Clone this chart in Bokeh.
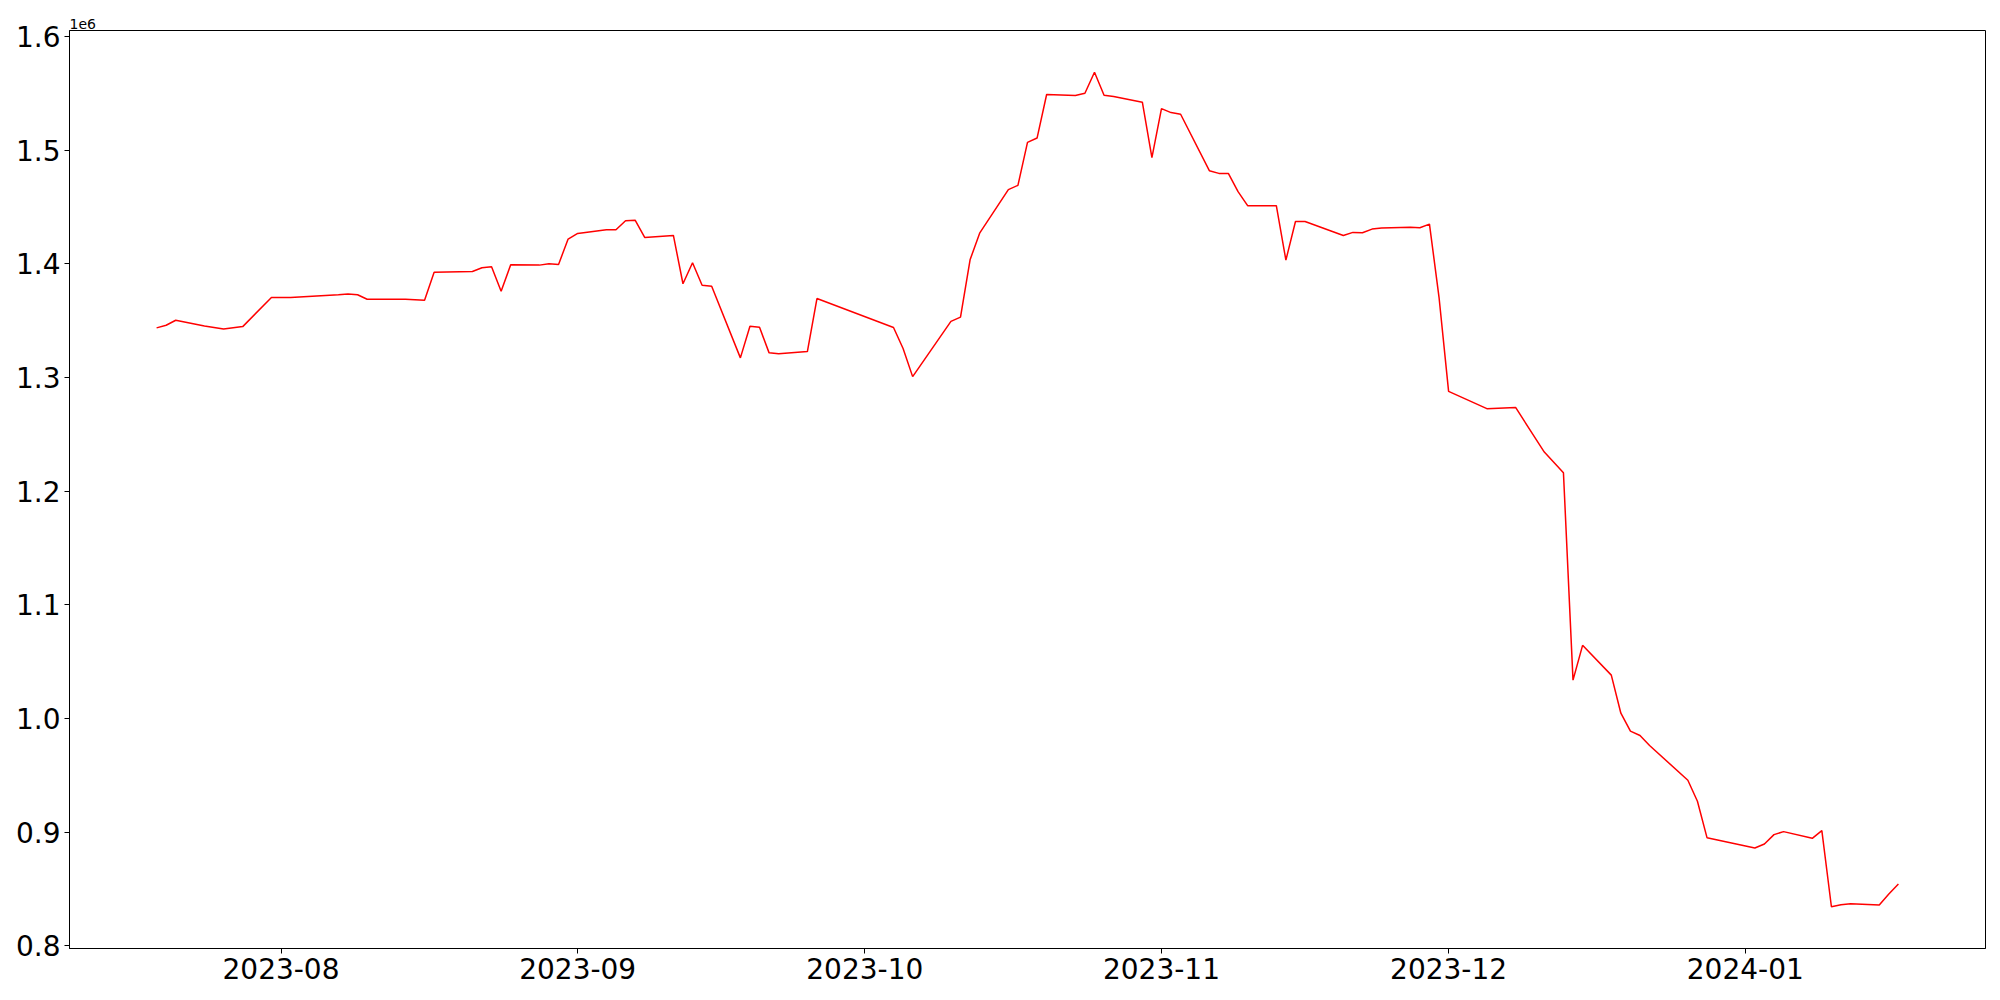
import pandas as pd
from bokeh.plotting import figure
from bokeh.models import FixedTicker, CustomJSTickFormatter, Range1d, DatetimeTickFormatter
from bokeh.embed import file_html
from bokeh.resources import INLINE

# ---- data ----
dates = [
    "2023-07-19", "2023-07-20", "2023-07-21", "2023-07-24", "2023-07-26", "2023-07-28",
    "2023-07-31", "2023-08-02", "2023-08-07", "2023-08-08", "2023-08-09", "2023-08-10",
    "2023-08-14", "2023-08-16", "2023-08-17", "2023-08-21", "2023-08-22", "2023-08-23",
    "2023-08-24", "2023-08-25", "2023-08-28", "2023-08-29", "2023-08-30", "2023-08-31",
    "2023-09-01", "2023-09-04", "2023-09-05", "2023-09-06", "2023-09-07", "2023-09-08",
    "2023-09-11", "2023-09-12", "2023-09-13", "2023-09-14", "2023-09-15", "2023-09-18",
    "2023-09-19", "2023-09-20", "2023-09-21", "2023-09-22", "2023-09-25", "2023-09-26",
    "2023-10-04", "2023-10-05", "2023-10-06", "2023-10-10", "2023-10-11", "2023-10-12",
    "2023-10-13", "2023-10-16", "2023-10-17", "2023-10-18", "2023-10-19", "2023-10-20",
    "2023-10-23", "2023-10-24", "2023-10-25", "2023-10-26", "2023-10-27", "2023-10-30",
    "2023-10-31", "2023-11-01", "2023-11-02", "2023-11-03", "2023-11-06", "2023-11-07",
    "2023-11-08", "2023-11-09", "2023-11-10", "2023-11-13", "2023-11-14", "2023-11-15",
    "2023-11-16", "2023-11-20", "2023-11-21", "2023-11-22", "2023-11-23", "2023-11-24",
    "2023-11-27", "2023-11-28", "2023-11-29", "2023-11-30", "2023-12-01", "2023-12-05",
    "2023-12-08", "2023-12-11", "2023-12-13", "2023-12-14", "2023-12-15", "2023-12-18",
    "2023-12-19", "2023-12-20", "2023-12-21", "2023-12-22", "2023-12-26", "2023-12-27",
    "2023-12-28", "2024-01-02", "2024-01-03", "2024-01-04", "2024-01-05", "2024-01-08",
    "2024-01-09", "2024-01-10", "2024-01-11", "2024-01-12", "2024-01-15", "2024-01-16",
    "2024-01-17",
]
values = [
    1343800, 1346100, 1350500, 1345500, 1342900, 1344900,
    1370500, 1370600, 1372900, 1373700, 1372900, 1369000,
    1369000, 1368100, 1392800, 1393400, 1396700, 1397500,
    1376000, 1399300, 1399000, 1400200, 1399600, 1421900,
    1426900, 1430100, 1430100, 1438100, 1438500, 1423400,
    1425100, 1382600, 1401100, 1381300, 1380400, 1317400,
    1345200, 1344300, 1321800, 1321100, 1322900, 1369600,
    1344100, 1325600, 1300900, 1349500, 1353200, 1403700,
    1427100, 1465400, 1469200, 1507000, 1510800, 1549100,
    1548200, 1550200, 1568700, 1548500, 1547300, 1542300,
    1493600, 1536700, 1533200, 1531700, 1482100, 1479700,
    1479500, 1463600, 1451300, 1451300, 1403400, 1437400,
    1437400, 1425100, 1427800, 1427500, 1430700, 1431600,
    1432400, 1431900, 1435100, 1370700, 1287900, 1272700,
    1273800, 1234500, 1216300, 1033900, 1064500, 1038300,
    1004800, 989000, 985200, 976400, 945800, 927300,
    895300, 886200, 889700, 898000, 900600, 894700,
    901500, 834500, 836300, 837200, 836000, 845700,
    854500,
]
x_tick_labels = ["2023-08", "2023-09", "2023-10", "2023-11", "2023-12", "2024-01"]
y_ticks = [800000, 900000, 1000000, 1100000, 1200000, 1300000, 1400000, 1500000, 1600000]

# ---- build ----
x = pd.to_datetime(dates)
span = x.max() - x.min()
x_start = x.min() - 0.05 * span
x_end = x.max() + 0.05 * span
vmin, vmax = min(values), max(values)
vr = vmax - vmin

FONT = "DejaVu Sans"

p = figure(
    width=2000, height=1000,
    x_axis_type="datetime",
    x_range=Range1d(start=x_start, end=x_end),
    y_range=Range1d(start=vmin - 0.05 * vr, end=vmax + 0.05 * vr),
    output_backend="svg", toolbar_location=None,
    min_border_left=69, min_border_right=15, min_border_top=30, min_border_bottom=52,
)

p.line(x, values, line_color="#ff0000", line_width=1.5)

# title used as the "1e6" offset text
p.title.text = "1e6"
p.title.align = "left"
p.title.text_font = FONT
p.title.text_font_size = "14px"
p.title.text_font_style = "normal"
p.title.text_color = "black"
p.title.standoff = 3

p.xgrid.visible = False
p.ygrid.visible = False
p.outline_line_color = "black"
p.outline_line_width = 1
p.outline_line_alpha = 1

xticks = [pd.Timestamp(s + "-01").value // 10**6 for s in x_tick_labels]
p.xaxis.ticker = FixedTicker(ticks=xticks)
fmt = "%Y-%m"
p.xaxis.formatter = DatetimeTickFormatter(
    microseconds=fmt, milliseconds=fmt, seconds=fmt, minsec=fmt, minutes=fmt,
    hourmin=fmt, hours=fmt, days=fmt, months=fmt, years=fmt,
)
p.yaxis.ticker = FixedTicker(ticks=y_ticks)
p.yaxis.formatter = CustomJSTickFormatter(code="return (tick/1e6).toFixed(1);")

for ax in (p.xaxis[0], p.yaxis[0]):
    ax.major_label_text_font = FONT
    ax.major_label_text_font_size = "28px"
    ax.major_label_text_color = "black"
    ax.axis_line_color = "black"
    ax.major_tick_line_color = "black"
    ax.major_tick_out = 5
    ax.major_tick_in = 0
    ax.minor_tick_line_color = None
    ax.major_label_standoff = 4

open("out.html", "w").write(file_html(p, INLINE))
